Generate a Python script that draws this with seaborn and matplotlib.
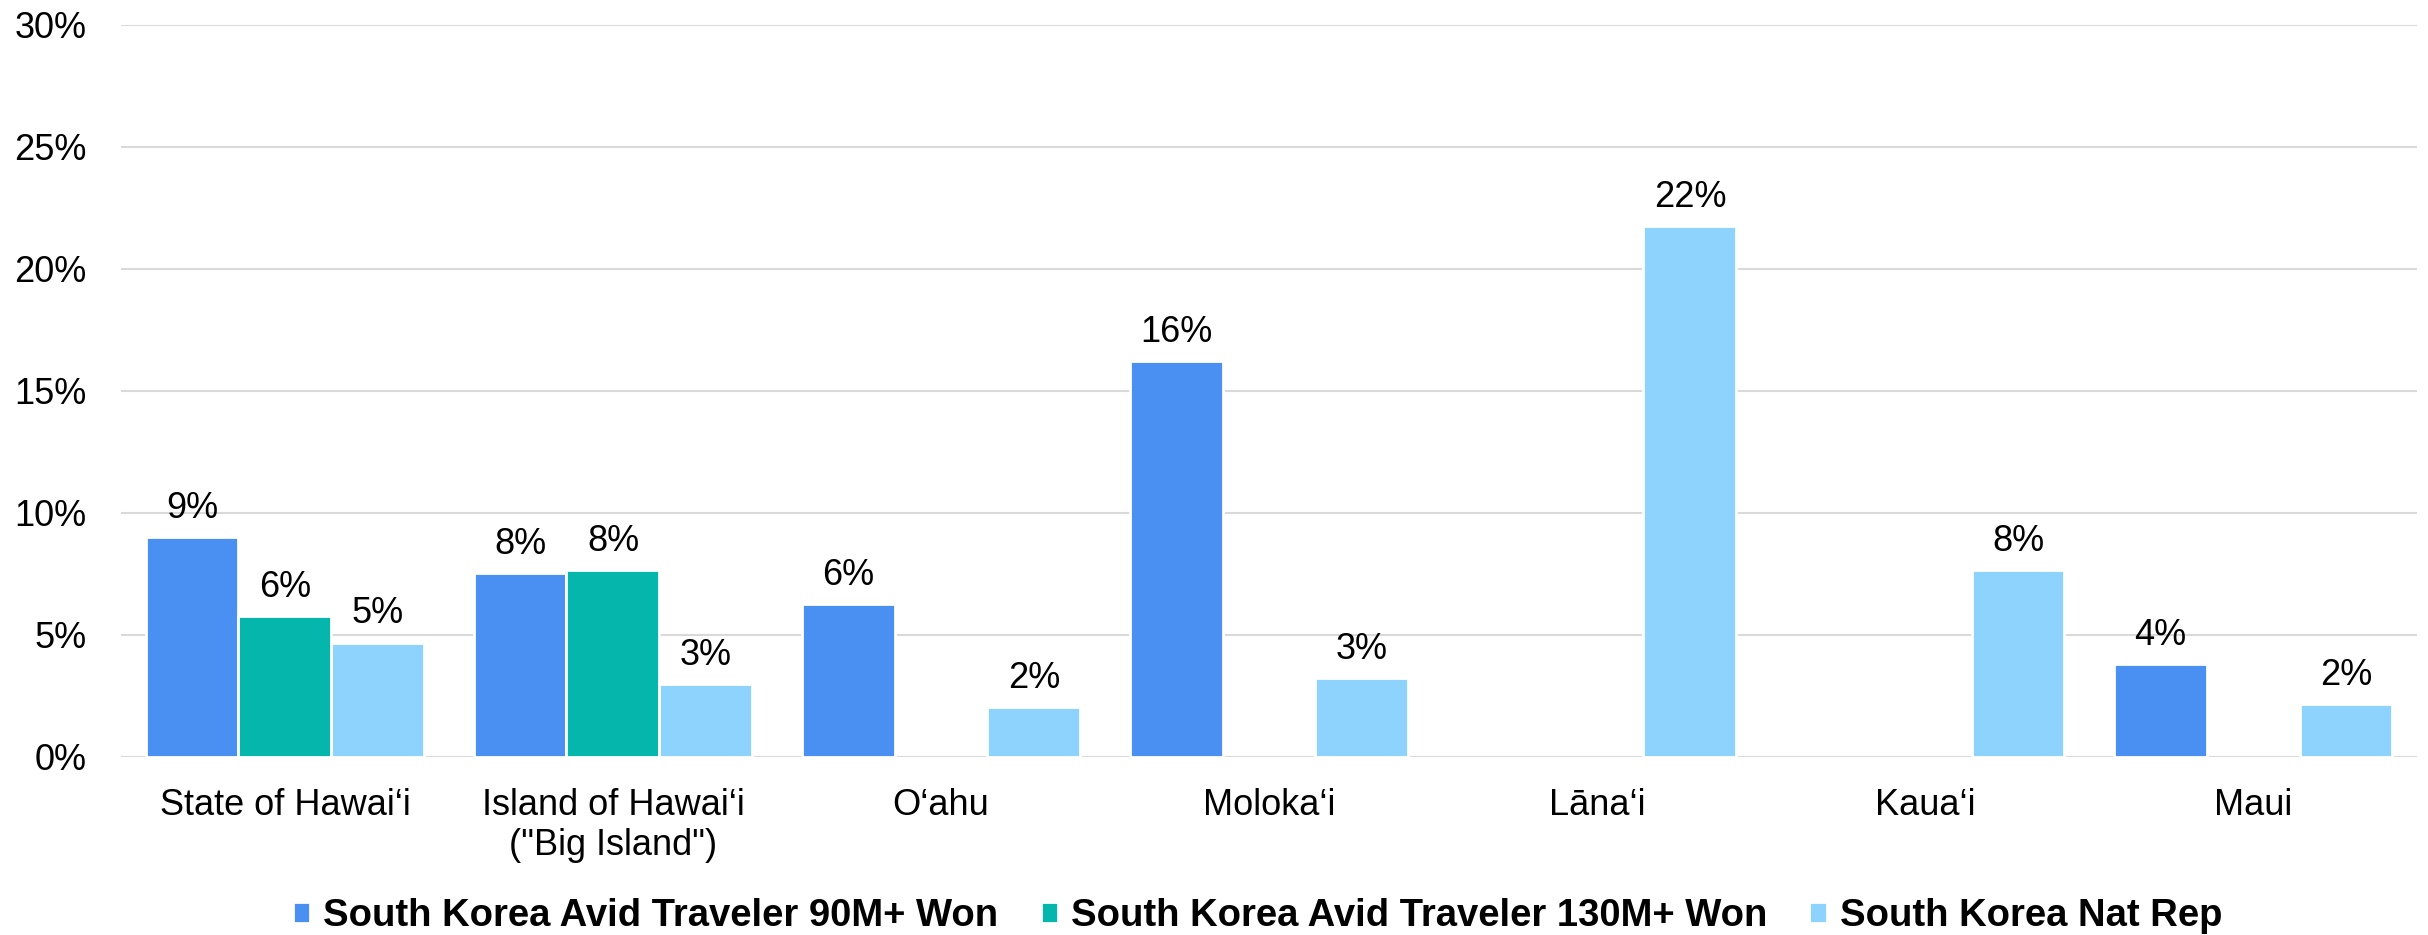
import matplotlib
matplotlib.use("Agg")
import matplotlib.pyplot as plt
from matplotlib.ticker import FuncFormatter
import numpy as np
import pandas as pd
import seaborn as sns

# Islands and the share of each segment (percent)
islands = [
    "State of Hawai\u2018i",
    "Island of Hawai\u2018i\n(\"Big Island\")",
    "O\u2018ahu",
    "Moloka\u2018i",
    "L\u0101na\u2018i",
    "Kaua\u2018i",
    "Maui",
]
series_names = [
    "South Korea Avid Traveler 90M+ Won",
    "South Korea Avid Traveler 130M+ Won",
    "South Korea Nat Rep",
]
avid_90m = [9.0, 7.55, 6.28, 16.23, np.nan, np.nan, 3.80]
avid_130m = [5.77, 7.67, np.nan, np.nan, np.nan, np.nan, np.nan]
nat_rep = [4.69, 2.98, 2.03, 3.23, 21.75, 7.67, 2.16]
colors = ["#4A90F2", "#05B6AC", "#8DD3FE"]

rows = []
for name, vals in zip(series_names, [avid_90m, avid_130m, nat_rep]):
    for isl, v in zip(islands, vals):
        rows.append({"island": isl, "segment": name, "share": v})
df = pd.DataFrame(rows).dropna()

sns.set_theme(style="white")
plt.rcParams["font.family"] = ["Liberation Sans", "DejaVu Sans"]
plt.rcParams["text.color"] = "#000000"

FS = 26

fig = plt.figure(figsize=(24.28, 9.35), dpi=100)
ax = fig.add_axes([0.0498, 0.1904, 0.9457, 0.7829])

sns.barplot(
    data=df, x="island", y="share", hue="segment",
    order=islands, hue_order=series_names, palette=colors,
    width=0.85, errorbar=None, edgecolor="white", linewidth=2,
    saturation=1, ax=ax,
)

for cont in ax.containers:
    labels = [f"{b.get_height():.0f}%" for b in cont]
    ax.bar_label(cont, labels=labels, padding=8, fontsize=FS, color="#000000")

ax.set_ylim(0, 30)
ax.set_yticks(np.arange(0, 31, 5))
ax.yaxis.set_major_formatter(FuncFormatter(lambda v, p: f"{v:.0f}%"))
ax.set_xlim(-0.5, len(islands) - 0.5)
ax.grid(axis="y", color="#D9D9D9", linewidth=1.5)
ax.set_axisbelow(True)
for s in ax.spines.values():
    s.set_visible(False)
ax.set_xlabel("")
ax.set_ylabel("")
ax.tick_params(axis="y", length=0, pad=25, labelsize=FS, labelcolor="#000000")
ax.tick_params(axis="x", length=0, pad=22, labelsize=FS, labelcolor="#000000")

handles, labels = ax.get_legend_handles_labels()
ax.get_legend().remove()
fig.legend(
    handles, labels, loc="center", bbox_to_anchor=(0.518, 0.02), ncol=3,
    frameon=False, prop={"weight": "bold", "size": 27.5}, labelcolor="#000000",
    handlelength=0.45, handleheight=0.45, handletextpad=0.35, columnspacing=1.1,
)

fig.savefig("out.png", dpi=100, facecolor="white")
